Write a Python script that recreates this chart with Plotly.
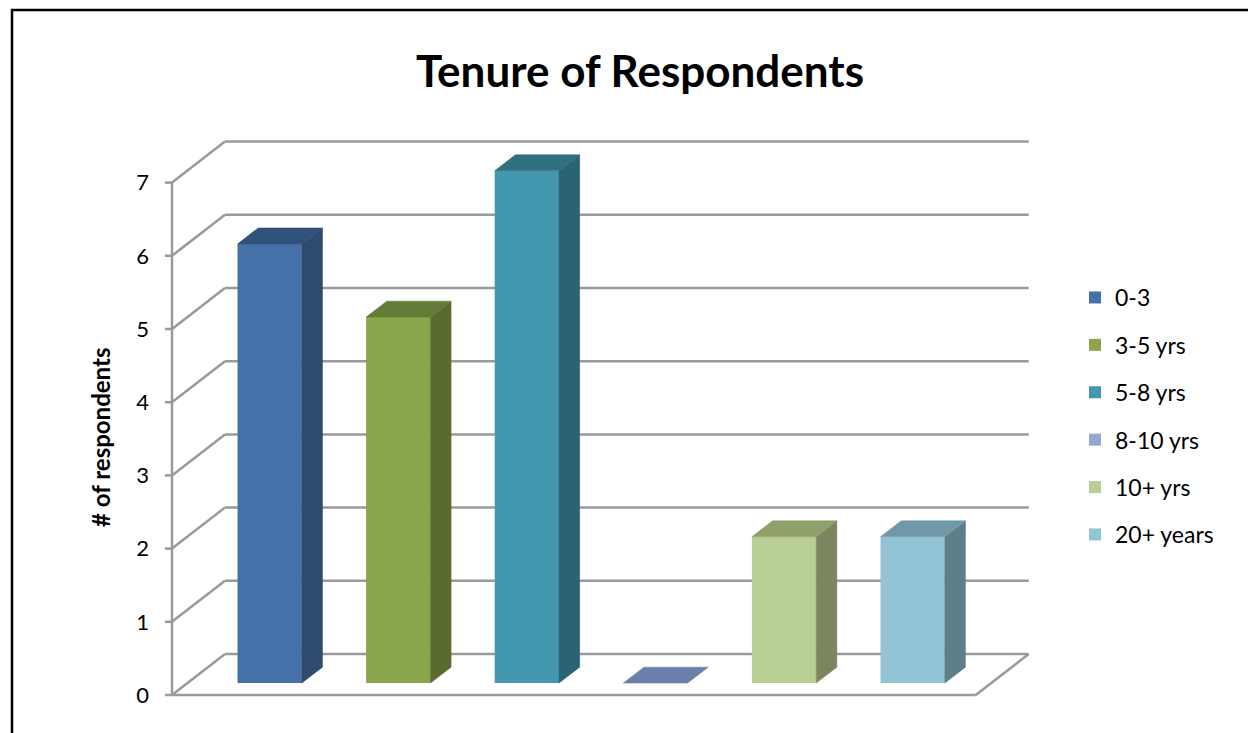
import plotly.graph_objects as go

# ---------------- data ----------------
categories = ["0-3", "3-5 yrs", "5-8 yrs", "8-10 yrs", "10+ yrs", "20+ years"]
values = [6, 5, 7, 0, 2, 2]
y_ticks = [0, 1, 2, 3, 4, 5, 6, 7]

# ---------------- styles ----------------
front_colors = ["#4571A8", "#8AA54C", "#4398B0", "#95A8D0", "#BACF95", "#93C4D5"]
side_colors = ["#2E4A6F", "#5A6B2F", "#2A6373", "#5E6E93", "#7A8660", "#5E7E89"]
top_colors = ["#30517A", "#627B36", "#2E7080", "#6A7FAA", "#8FA06B", "#6F98A8"]
GRID = "#9A9A9A"

# 3D projection geometry (in axis units)
DX, DY = 0.412, 0.56      # full depth offset
F1, F2 = 0.29, 0.68       # bar front / back depth fractions
BAR_W = 0.5
C0 = 0.64                 # first bar centre (front plane)
FLOOR_W = 6.25

fig = go.Figure()

# front faces as real bars
for i, (cat, v) in enumerate(zip(categories, values)):
    c = C0 + i
    fig.add_trace(go.Bar(
        x=[c + F1 * DX], y=[v], base=F1 * DY, width=BAR_W,
        marker=dict(color=front_colors[i], line=dict(width=0)),
        name=cat, showlegend=True, hoverinfo="skip", legendgroup="g%d" % i,
    ))

# side and top faces
for i, v in enumerate(values):
    c = C0 + i
    xl, xr = c - BAR_W / 2, c + BAR_W / 2
    if v > 0:
        sx = [xr + F1 * DX, xr + F2 * DX, xr + F2 * DX, xr + F1 * DX, xr + F1 * DX]
        sy = [F1 * DY, F2 * DY, v + F2 * DY, v + F1 * DY, F1 * DY]
        fig.add_trace(go.Scatter(x=sx, y=sy, fill="toself", mode="lines",
                                 line=dict(width=0.5, color=side_colors[i]),
                                 fillcolor=side_colors[i], showlegend=False,
                                 hoverinfo="skip"))
    tx = [xl + F1 * DX, xr + F1 * DX, xr + F2 * DX, xl + F2 * DX, xl + F1 * DX]
    ty = [v + F1 * DY, v + F1 * DY, v + F2 * DY, v + F2 * DY, v + F1 * DY]
    fig.add_trace(go.Scatter(x=tx, y=ty, fill="toself", mode="lines",
                             line=dict(width=0.5, color=top_colors[i]),
                             fillcolor=top_colors[i], showlegend=False,
                             hoverinfo="skip"))

# walls / gridlines as shapes below traces
shapes = []
def seg(x0, y0, x1, y1, w=2.5, color=GRID):
    shapes.append(dict(type="line", xref="x", yref="y", x0=x0, y0=y0, x1=x1, y1=y1,
                       line=dict(color=color, width=w), layer="below"))

for t in y_ticks:
    seg(DX, t + DY, FLOOR_W + DX, t + DY)      # back wall
    seg(0, t, DX, t + DY)                      # side wall diagonal
    seg(-0.055, t, 0, t)                       # tick mark
seg(0, 0, 0, max(y_ticks))                     # front vertical axis
seg(0, 0, FLOOR_W, 0)                          # floor front edge
seg(FLOOR_W, 0, FLOOR_W + DX, DY)              # floor right edge

# outer border (paper coords)
pl, pr, pt, pb = 160, 1040, 125, 715
def px_x(p): return (p - pl) / (pr - pl)
def px_y(p): return (pb - p) / (pb - pt)
shapes.append(dict(type="rect", xref="paper", yref="paper",
                   x0=px_x(12), x1=px_x(1262), y0=px_y(760), y1=px_y(10),
                   line=dict(color="black", width=2.5), fillcolor="rgba(0,0,0,0)"))

XU, YU = 128.6, 73.2
fig.update_layout(
    width=1248, height=733,
    margin=dict(l=pl, r=1248 - pr, t=pt, b=733 - pb),
    paper_bgcolor="white", plot_bgcolor="white",
    barmode="overlay",
    shapes=shapes,
    font=dict(family="Lato, Open Sans, sans-serif", color="black"),
    title=dict(text="<b>Tenure of Respondents</b>", x=640 / 1248, xref="container",
               xanchor="center", y=1 - 72 / 733, yref="container", yanchor="middle",
               font=dict(size=44, color="black", family="Lato, sans-serif")),
    xaxis=dict(visible=False, range=[(pl - 172) / XU, (pr - 172) / XU], fixedrange=True),
    yaxis=dict(range=[(695 - pb) / YU, (695 - pt) / YU], showgrid=False, zeroline=False,
               showline=False, tickvals=y_ticks, ticks="", ticklabelstandoff=10,
               tickfont=dict(size=22, color="black"), fixedrange=True),
    legend=dict(x=px_x(1075), xanchor="left", y=px_y(276), yanchor="top",
                font=dict(size=23, color="black"), tracegroupgap=14.5,
                bgcolor="rgba(0,0,0,0)", itemclick=False),
    annotations=[dict(text="<b># of respondents</b>", textangle=-90, xref="paper",
                      yref="paper", x=px_x(100), y=px_y(438), showarrow=False,
                      xanchor="center", yanchor="middle",
                      font=dict(size=24, color="black"))],
)

fig.write_html("out.html")
